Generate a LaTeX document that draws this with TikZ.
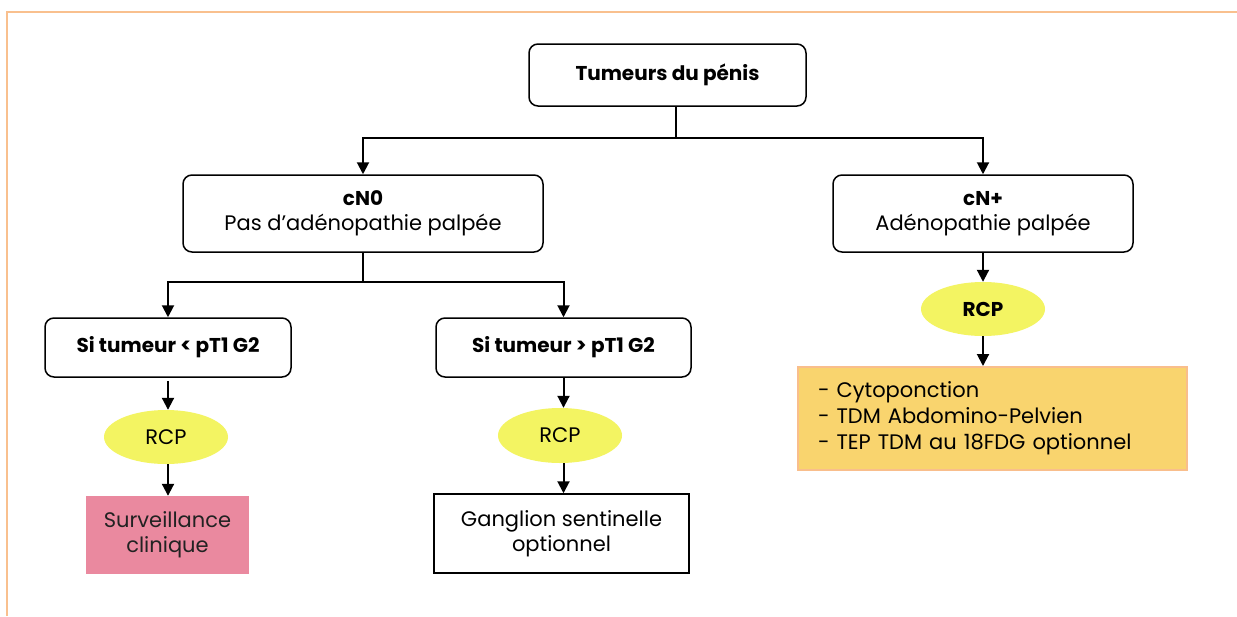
\documentclass[tikz,border=0pt]{standalone}
\usepackage{fontspec}
\setmainfont{Poppins}
\usetikzlibrary{arrows.meta,shapes.geometric}
\definecolor{framec}{HTML}{F9C08E}
\definecolor{rcpy}{HTML}{F3F462}
\definecolor{pinkc}{HTML}{EA899F}
\definecolor{orfill}{HTML}{F9D46E}
\definecolor{orline}{HTML}{F9BE8C}
\definecolor{txtgray}{HTML}{222222}
\newcommand{\bfsz}{\fontsize{20}{25}\selectfont\bfseries}
\tikzset{
  txt/.style={font=\fontsize{21}{25}\selectfont, text=black},
  rbox/.style={txt, draw=black, line width=1.5pt, rounded corners=9pt, rectangle, align=center, inner sep=0pt},
  rcpnode/.style={txt, ellipse, fill=rcpy, draw=none, inner sep=0pt},
  sqbox/.style={txt, rectangle, align=center, inner sep=0pt},
  arr/.style={line width=2pt, -{Triangle[length=12pt,width=12pt]}},
  conn/.style={line width=2pt},
}
\begin{document}
\begin{tikzpicture}[x=1pt,y=-1pt]
\useasboundingbox (0,0) rectangle (1237,616);
\fill[white] (0,0) rectangle (1237,616);
\draw[framec, line width=2.5pt] (7,616) -- (7,12) -- (1237,12);

\node[rbox, minimum width=277pt, minimum height=62pt] (top) at (667.5,75) {\bfsz Tumeurs du pénis};
\node[rbox, minimum width=360pt, minimum height=77pt] (cn0) at (363,213.5) {{\bfsz cN0}\\Pas d’adénopathie palpée};
\node[rbox, minimum width=300pt, minimum height=77pt] (cnp) at (983,213.5) {{\bfsz cN+}\\Adénopathie palpée};

\node[rbox, minimum width=246pt, minimum height=59pt] (lbox) at (168,347.5) {\bfsz Si tumeur < pT1 G2};
\node[rbox, minimum width=255pt, minimum height=59pt] (mbox) at (563.5,347.5) {\bfsz Si tumeur > pT1 G2};

\node[rcpnode, minimum width=124pt, minimum height=54pt] (lrcp) at (166,437) {RCP};
\node[rcpnode, minimum width=124pt, minimum height=55pt] (mrcp) at (560,435.5) {RCP};
\node[rcpnode, minimum width=124pt, minimum height=54pt] (rrcp) at (983,309) {\bfsz RCP};

\node[sqbox, fill=pinkc, minimum width=163pt, minimum height=78pt, text=txtgray] (surv) at (167.5,535) {Surveillance\\clinique};
\node[sqbox, draw=black, line width=1.5pt, minimum width=255pt, minimum height=79pt] (gang) at (561.5,533.5) {Ganglion sentinelle\\optionnel};
\node[sqbox, fill=orfill, draw=orline, line width=2pt, minimum width=389pt, minimum height=103pt, text width=349pt, align=left, font=\fontsize{21}{26}\selectfont] (exam) at (992.5,418.5) {- Cytoponction\\- TDM Abdomino-Pelvien\\- TEP TDM au 18FDG optionnel};

\coordinate (j1) at (676,138);
\draw[conn] (top.south -| j1) -- (j1);
\draw[arr] (j1) -| (cn0.north);
\draw[arr] (j1) -| (cnp.north);

\coordinate (j2) at (363,282);
\draw[conn] (cn0.south) -- (j2);
\draw[arr] (j2) -| (lbox.north);
\draw[arr] (j2) -| (mbox.north);

\draw[arr, shorten <=3pt] (lbox.south) -- (lbox.south |- lrcp.north);
\draw[arr] (lbox.south |- lrcp.south) -- (lbox.south |- surv.north);
\draw[arr] (mbox.south) -- (mbox.south |- mrcp.north);
\draw[arr] (mbox.south |- mrcp.south) -- (mbox.south |- gang.north);
\draw[arr] (cnp.south) -- (rrcp.north);
\draw[arr] (rrcp.south) -- (exam.north -| rrcp.south);
\end{tikzpicture}
\end{document}
